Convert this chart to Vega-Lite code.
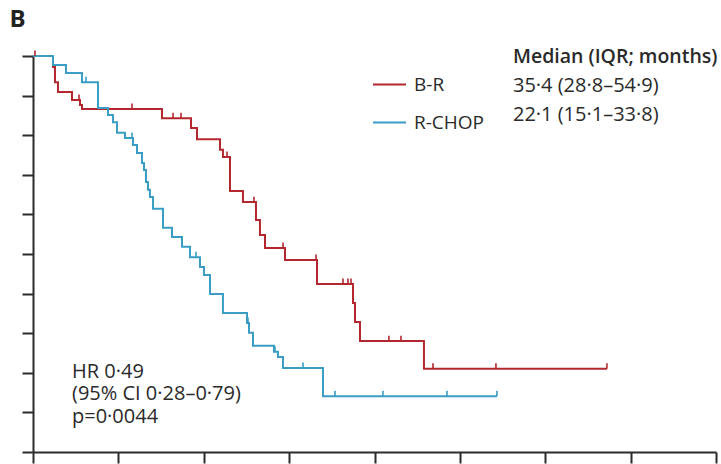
{
  "$schema": "https://vega.github.io/schema/vega-lite/v6.json",
  "width": 683,
  "height": 396,
  "autosize": "none",
  "padding": {"left": 33, "top": 56, "right": 5, "bottom": 12},
  "config": {"view": {"stroke": null}, "font": "Open Sans"},
  "datasets": {
    "curves": [
      {"group": "B-R", "month": 0, "surv": 1.0},
      {"group": "B-R", "month": 2.81, "surv": 0.972},
      {"group": "B-R", "month": 3.09, "surv": 0.934},
      {"group": "B-R", "month": 3.51, "surv": 0.909},
      {"group": "B-R", "month": 5.48, "surv": 0.889},
      {"group": "B-R", "month": 6.61, "surv": 0.876},
      {"group": "B-R", "month": 6.89, "surv": 0.866},
      {"group": "B-R", "month": 18.13, "surv": 0.843},
      {"group": "B-R", "month": 22.21, "surv": 0.818},
      {"group": "B-R", "month": 23.05, "surv": 0.79},
      {"group": "B-R", "month": 26.28, "surv": 0.763},
      {"group": "B-R", "month": 26.7, "surv": 0.745},
      {"group": "B-R", "month": 27.69, "surv": 0.659},
      {"group": "B-R", "month": 29.51, "surv": 0.631},
      {"group": "B-R", "month": 31.34, "surv": 0.586},
      {"group": "B-R", "month": 31.9, "surv": 0.548},
      {"group": "B-R", "month": 32.61, "surv": 0.515},
      {"group": "B-R", "month": 35.42, "surv": 0.485},
      {"group": "B-R", "month": 39.92, "surv": 0.424},
      {"group": "B-R", "month": 44.98, "surv": 0.376},
      {"group": "B-R", "month": 45.26, "surv": 0.328},
      {"group": "B-R", "month": 45.96, "surv": 0.28},
      {"group": "B-R", "month": 54.95, "surv": 0.21},
      {"group": "B-R", "month": 80.67, "surv": 0.21},
      {"group": "R-CHOP", "month": 0, "surv": 1.0},
      {"group": "R-CHOP", "month": 2.81, "surv": 0.977},
      {"group": "R-CHOP", "month": 4.64, "surv": 0.957},
      {"group": "R-CHOP", "month": 6.89, "surv": 0.934},
      {"group": "R-CHOP", "month": 9.14, "surv": 0.869},
      {"group": "R-CHOP", "month": 10.54, "surv": 0.851},
      {"group": "R-CHOP", "month": 11.24, "surv": 0.833},
      {"group": "R-CHOP", "month": 11.81, "surv": 0.806},
      {"group": "R-CHOP", "month": 12.93, "surv": 0.793},
      {"group": "R-CHOP", "month": 14.05, "surv": 0.775},
      {"group": "R-CHOP", "month": 14.62, "surv": 0.755},
      {"group": "R-CHOP", "month": 15.32, "surv": 0.73},
      {"group": "R-CHOP", "month": 15.6, "surv": 0.712},
      {"group": "R-CHOP", "month": 15.88, "surv": 0.682},
      {"group": "R-CHOP", "month": 16.16, "surv": 0.662},
      {"group": "R-CHOP", "month": 16.44, "surv": 0.644},
      {"group": "R-CHOP", "month": 16.87, "surv": 0.614},
      {"group": "R-CHOP", "month": 18.27, "surv": 0.566},
      {"group": "R-CHOP", "month": 19.54, "surv": 0.543},
      {"group": "R-CHOP", "month": 20.94, "surv": 0.518},
      {"group": "R-CHOP", "month": 22.07, "surv": 0.492},
      {"group": "R-CHOP", "month": 23.47, "surv": 0.467},
      {"group": "R-CHOP", "month": 24.03, "surv": 0.447},
      {"group": "R-CHOP", "month": 24.88, "surv": 0.399},
      {"group": "R-CHOP", "month": 26.7, "surv": 0.351},
      {"group": "R-CHOP", "month": 30.08, "surv": 0.326},
      {"group": "R-CHOP", "month": 30.36, "surv": 0.301},
      {"group": "R-CHOP", "month": 30.92, "surv": 0.268},
      {"group": "R-CHOP", "month": 33.87, "surv": 0.253},
      {"group": "R-CHOP", "month": 34.43, "surv": 0.24},
      {"group": "R-CHOP", "month": 35.14, "surv": 0.212},
      {"group": "R-CHOP", "month": 40.76, "surv": 0.141},
      {"group": "R-CHOP", "month": 65.21, "surv": 0.141}
    ],
    "censor": [
      {"group": "B-R", "month": 0.28, "surv": 1.0},
      {"group": "B-R", "month": 6.47, "surv": 0.889},
      {"group": "B-R", "month": 13.91, "surv": 0.866},
      {"group": "B-R", "month": 19.68, "surv": 0.843},
      {"group": "B-R", "month": 20.8, "surv": 0.843},
      {"group": "B-R", "month": 27.27, "surv": 0.745},
      {"group": "B-R", "month": 31.06, "surv": 0.631},
      {"group": "B-R", "month": 35.14, "surv": 0.515},
      {"group": "B-R", "month": 39.78, "surv": 0.485},
      {"group": "B-R", "month": 43.57, "surv": 0.424},
      {"group": "B-R", "month": 44.27, "surv": 0.424},
      {"group": "B-R", "month": 44.7, "surv": 0.424},
      {"group": "B-R", "month": 50.03, "surv": 0.28},
      {"group": "B-R", "month": 51.72, "surv": 0.28},
      {"group": "B-R", "month": 56.22, "surv": 0.21},
      {"group": "B-R", "month": 65.07, "surv": 0.21},
      {"group": "B-R", "month": 80.67, "surv": 0.21},
      {"group": "R-CHOP", "month": 7.45, "surv": 0.934},
      {"group": "R-CHOP", "month": 13.91, "surv": 0.793},
      {"group": "R-CHOP", "month": 22.91, "surv": 0.492},
      {"group": "R-CHOP", "month": 30.22, "surv": 0.326},
      {"group": "R-CHOP", "month": 34.01, "surv": 0.253},
      {"group": "R-CHOP", "month": 37.95, "surv": 0.212},
      {"group": "R-CHOP", "month": 42.45, "surv": 0.141},
      {"group": "R-CHOP", "month": 49.19, "surv": 0.141},
      {"group": "R-CHOP", "month": 58.19, "surv": 0.141},
      {"group": "R-CHOP", "month": 65.21, "surv": 0.141}
    ]
  },
  "layer": [
    {
      "data": {"name": "curves"},
      "mark": {"type": "line", "interpolate": "step-after", "strokeWidth": 2},
      "encoding": {
        "x": {"field": "month", "type": "quantitative",
          "scale": {"domain": [0, 96], "nice": false, "zero": false},
          "axis": {"values": [0, 12, 24, 36, 48, 60, 72, 84, 96], "tickCount": 20, "labels": false, "title": null, "grid": false,
            "domainColor": "#2b2b2b", "domainWidth": 2, "tickColor": "#2b2b2b", "tickWidth": 2, "tickSize": 11}},
        "y": {"field": "surv", "type": "quantitative",
          "scale": {"domain": [0, 1], "nice": false, "zero": false},
          "axis": {"values": [0, 0.1, 0.2, 0.3, 0.4, 0.5, 0.6, 0.7, 0.8, 0.9, 1.0], "tickCount": 20, "labels": false, "title": null, "grid": false,
            "domainColor": "#2b2b2b", "domainWidth": 2, "tickColor": "#2b2b2b", "tickWidth": 2, "tickSize": 11}},
        "color": {"field": "group", "type": "nominal",
          "scale": {"domain": ["B-R", "R-CHOP"], "range": ["#b3282f", "#3a9dc4"]},
          "legend": {"orient": "none", "legendX": 339, "legendY": 11, "title": null, "symbolType": "stroke",
            "symbolSize": 1089, "symbolStrokeWidth": 2, "labelFontSize": 19, "labelFont": "Open Sans",
            "labelColor": "#2a2a2a", "labelOffset": 7, "rowPadding": 10, "padding": 0}}
      }
    },
    {
      "data": {"name": "censor"},
      "mark": {"type": "point", "shape": "M0,-1L0,0", "filled": false, "size": 120, "strokeWidth": 1.6, "opacity": 1},
      "encoding": {
        "x": {"field": "month", "type": "quantitative"},
        "y": {"field": "surv", "type": "quantitative"},
        "stroke": {"field": "group", "type": "nominal",
          "scale": {"domain": ["B-R", "R-CHOP"], "range": ["#b3282f", "#3a9dc4"]}, "legend": null}
      }
    },
    {
      "data": {"values": [{}]},
      "mark": {"type": "text", "text": "B", "align": "left", "baseline": "alphabetic", "fontSize": 24, "fontWeight": "bold", "font": "Open Sans", "color": "#222222"},
      "encoding": {"x": {"datum": -3.3}, "y": {"datum": 1.073}}
    },
    {
      "data": {"values": [{}]},
      "mark": {"type": "text", "text": "Median (IQR; months)", "align": "left", "baseline": "alphabetic", "fontSize": 19.5, "fontWeight": 600, "font": "Open Sans", "color": "#2a2a2a"},
      "encoding": {"x": {"datum": 67.46}, "y": {"datum": 0.982}}
    },
    {
      "data": {"values": [{}]},
      "mark": {"type": "text", "text": ["35·4 (28·8–54·9)", "22·1 (15·1–33·8)"], "lineHeight": 29, "align": "left", "baseline": "alphabetic", "fontSize": 20, "font": "Open Sans", "color": "#2a2a2a"},
      "encoding": {"x": {"datum": 67.46}, "y": {"datum": 0.909}}
    },
    {
      "data": {"values": [{}]},
      "mark": {"type": "text", "text": ["HR 0·49", "(95% CI 0·28–0·79)", "p=0·0044"], "lineHeight": 22.5, "align": "left", "baseline": "alphabetic", "fontSize": 20, "font": "Open Sans", "color": "#2a2a2a"},
      "encoding": {"x": {"datum": 5.48}, "y": {"datum": 0.187}}
    }
  ]
}
